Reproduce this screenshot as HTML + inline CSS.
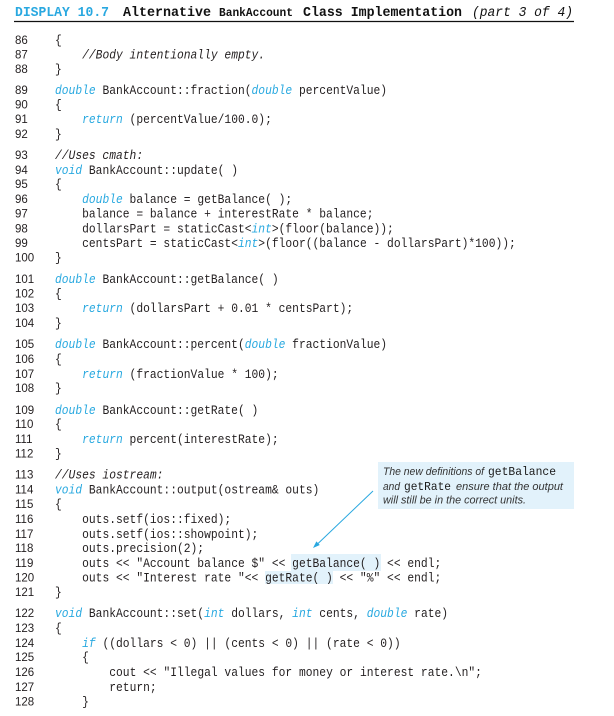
<!DOCTYPE html>
<html><head><meta charset="utf-8"><style>
html,body{margin:0;padding:0;background:#fff;}
svg{display:block;}
.n{font-family:"Liberation Sans",sans-serif;font-size:11.5px;fill:#231f20;}
.c{font-family:"Liberation Mono",monospace;font-size:12.5px;fill:#231f20;white-space:pre;}
.k{fill:#29a9e0;font-style:italic;}
.i{font-style:italic;}
.h{font-family:"Liberation Mono",monospace;font-weight:bold;fill:#111;}
.t{font-family:"Liberation Sans",sans-serif;font-style:italic;font-size:10.8px;fill:#333;}
.tb{font-family:"Liberation Mono",monospace;font-size:11.8px;fill:#1a1a1a;}
</style></head><body>
<svg width="614" height="716" viewBox="0 0 614 716" xmlns="http://www.w3.org/2000/svg">
<rect width="614" height="716" fill="#fff"/>
<!-- header -->
<text x="15" y="16" class="h" style="fill:#29a8e0;font-size:13.5px" textLength="94" lengthAdjust="spacingAndGlyphs">DISPLAY 10.7</text>
<text x="123" y="16" class="h" style="font-size:14px" textLength="88" lengthAdjust="spacingAndGlyphs">Alternative</text>
<text x="219" y="16" class="h" style="font-size:11.5px" textLength="74" lengthAdjust="spacingAndGlyphs">BankAccount</text>
<text x="303" y="16" class="h" style="font-size:14px" textLength="159" lengthAdjust="spacingAndGlyphs">Class Implementation</text>
<text x="472" y="16" style="font-family:'Liberation Mono',monospace;font-style:italic;font-size:13.5px;fill:#111" textLength="101" lengthAdjust="spacingAndGlyphs">(part 3 of 4)</text>
<line x1="14" y1="21.5" x2="574" y2="21.5" stroke="#111" stroke-width="1.3"/>

<!-- callout -->
<rect x="378" y="462" width="196" height="47" fill="#e2f2fb"/>
<text x="383" y="475" class="t" textLength="101" lengthAdjust="spacingAndGlyphs">The new definitions of</text>
<text x="488" y="475" class="tb" textLength="68" lengthAdjust="spacingAndGlyphs">getBalance</text>
<text x="383" y="490" class="t" textLength="17" lengthAdjust="spacingAndGlyphs">and</text>
<text x="404" y="490" class="tb" textLength="47" lengthAdjust="spacingAndGlyphs">getRate</text>
<text x="456" y="490" class="t" textLength="107" lengthAdjust="spacingAndGlyphs">ensure that the output</text>
<text x="383" y="503.5" class="t" textLength="143" lengthAdjust="spacingAndGlyphs">will still be in the correct units.</text>

<!-- highlights -->
<rect x="291" y="554" width="90" height="17" fill="#e2f2fb"/>
<rect x="265" y="571" width="68" height="13" fill="#e2f2fb"/>

<!-- arrow -->
<line x1="373" y1="491" x2="317" y2="544.5" stroke="#29a8e0" stroke-width="1"/>
<polygon points="313,548 319.8,545 316.4,541.4" fill="#29a8e0"/>

<!-- line numbers -->
<g class="n">
<text x="15" y="44.2">86</text>
<text x="15" y="58.7">87</text>
<text x="15" y="73.2">88</text>
<text x="15" y="94.2">89</text>
<text x="15" y="108.7">90</text>
<text x="15" y="123.2">91</text>
<text x="15" y="138.2">92</text>
<text x="15" y="159.2">93</text>
<text x="15" y="174.2">94</text>
<text x="15" y="188.2">95</text>
<text x="15" y="203.2">96</text>
<text x="15" y="217.7">97</text>
<text x="15" y="232.7">98</text>
<text x="15" y="247.2">99</text>
<text x="15" y="261.7">100</text>
<text x="15" y="283.2">101</text>
<text x="15" y="297.7">102</text>
<text x="15" y="312.2">103</text>
<text x="15" y="327.2">104</text>
<text x="15" y="348.2">105</text>
<text x="15" y="363.2">106</text>
<text x="15" y="378.2">107</text>
<text x="15" y="392.2">108</text>
<text x="15" y="414.2">109</text>
<text x="15" y="428.2">110</text>
<text x="15" y="443.2">111</text>
<text x="15" y="457.7">112</text>
<text x="15" y="478.7">113</text>
<text x="15" y="493.7">114</text>
<text x="15" y="508.2">115</text>
<text x="15" y="523.2">116</text>
<text x="15" y="538.2">117</text>
<text x="15" y="552.2">118</text>
<text x="15" y="567.2">119</text>
<text x="15" y="581.7">120</text>
<text x="15" y="596.2">121</text>
<text x="15" y="617.2">122</text>
<text x="15" y="632.2">123</text>
<text x="15" y="647.2">124</text>
<text x="15" y="661.2">125</text>
<text x="15" y="676.2">126</text>
<text x="15" y="691.2">127</text>
<text x="15" y="705.7">128</text>
</g>

<!-- code -->
<g transform="translate(55 0) scale(0.904 1)">
<g class="c">
<text x="0" y="44.2">{</text>
<text x="30" y="58.7" class="c i">//Body intentionally empty.</text>
<text x="0" y="73.2">}</text>
<text x="0" y="94.2"><tspan class="k">double</tspan> BankAccount::fraction(<tspan class="k">double</tspan> percentValue)</text>
<text x="0" y="108.7">{</text>
<text x="30" y="123.2"><tspan class="k">return</tspan> (percentValue/100.0);</text>
<text x="0" y="138.2">}</text>
<text x="0" y="159.2" class="c i">//Uses cmath:</text>
<text x="0" y="174.2"><tspan class="k">void</tspan> BankAccount::update( )</text>
<text x="0" y="188.2">{</text>
<text x="30" y="203.2"><tspan class="k">double</tspan> balance = getBalance( );</text>
<text x="30" y="217.7">balance = balance + interestRate * balance;</text>
<text x="30" y="232.7">dollarsPart = staticCast&lt;<tspan class="k">int</tspan>&gt;(floor(balance));</text>
<text x="30" y="247.2">centsPart = staticCast&lt;<tspan class="k">int</tspan>&gt;(floor((balance - dollarsPart)*100));</text>
<text x="0" y="261.7">}</text>
<text x="0" y="283.2"><tspan class="k">double</tspan> BankAccount::getBalance( )</text>
<text x="0" y="297.7">{</text>
<text x="30" y="312.2"><tspan class="k">return</tspan> (dollarsPart + 0.01 * centsPart);</text>
<text x="0" y="327.2">}</text>
<text x="0" y="348.2"><tspan class="k">double</tspan> BankAccount::percent(<tspan class="k">double</tspan> fractionValue)</text>
<text x="0" y="363.2">{</text>
<text x="30" y="378.2"><tspan class="k">return</tspan> (fractionValue * 100);</text>
<text x="0" y="392.2">}</text>
<text x="0" y="414.2"><tspan class="k">double</tspan> BankAccount::getRate( )</text>
<text x="0" y="428.2">{</text>
<text x="30" y="443.2"><tspan class="k">return</tspan> percent(interestRate);</text>
<text x="0" y="457.7">}</text>
<text x="0" y="478.7" class="c i">//Uses iostream:</text>
<text x="0" y="493.7"><tspan class="k">void</tspan> BankAccount::output(ostream&amp; outs)</text>
<text x="0" y="508.2">{</text>
<text x="30" y="523.2">outs.setf(ios::fixed);</text>
<text x="30" y="538.2">outs.setf(ios::showpoint);</text>
<text x="30" y="552.2">outs.precision(2);</text>
<text x="30" y="567.2">outs &lt;&lt; "Account balance $" &lt;&lt; getBalance( ) &lt;&lt; endl;</text>
<text x="30" y="581.7">outs &lt;&lt; "Interest rate "&lt;&lt; getRate( ) &lt;&lt; "%" &lt;&lt; endl;</text>
<text x="0" y="596.2">}</text>
<text x="0" y="617.2"><tspan class="k">void</tspan> BankAccount::set(<tspan class="k">int</tspan> dollars, <tspan class="k">int</tspan> cents, <tspan class="k">double</tspan> rate)</text>
<text x="0" y="632.2">{</text>
<text x="30" y="647.2"><tspan class="k">if</tspan> ((dollars &lt; 0) || (cents &lt; 0) || (rate &lt; 0))</text>
<text x="30" y="661.2">{</text>
<text x="60" y="676.2">cout &lt;&lt; "Illegal values for money or interest rate.\n";</text>
<text x="60" y="691.2">return;</text>
<text x="30" y="705.7">}</text>
</g>
</g>
</svg>
</body></html>
